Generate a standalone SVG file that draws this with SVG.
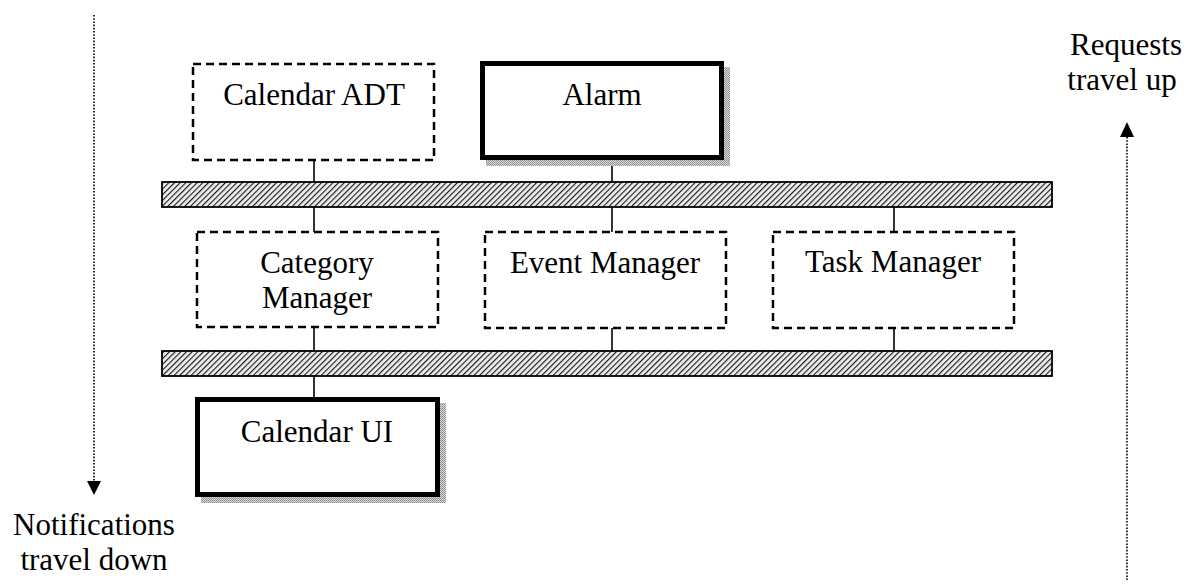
<svg xmlns="http://www.w3.org/2000/svg" width="1187" height="588" viewBox="0 0 1187 588">
  <defs>
    <!-- diagonal hatching for the two bus bars -->
    <pattern id="hatch" patternUnits="userSpaceOnUse" width="4" height="4" patternTransform="rotate(45)">
      <rect width="4" height="4" fill="#eeeeee"/>
      <line x1="0" y1="0" x2="0" y2="4" stroke="#1a1a1a" stroke-width="2.3"/>
    </pattern>
    <!-- stippled grey drop shadow of the solid components -->
    <pattern id="stipple" patternUnits="userSpaceOnUse" width="2" height="2">
      <rect width="2" height="2" fill="#d8d8d8"/>
      <rect width="1" height="1" fill="#8a8a8a"/>
      <rect x="1" y="1" width="1" height="1" fill="#a0a0a0"/>
    </pattern>
    <style>
      .lbl { font-family: "Liberation Serif", "Times New Roman", serif; font-size: 31px; fill: #000; text-anchor: middle; }
      .dash { fill: #fff; stroke: #000; stroke-width: 2.5; stroke-dasharray: 8 5; }
      .solid { fill: #fff; stroke: #000; stroke-width: 5; }
      .shadow { fill: url(#stipple); }
      .bus { fill: url(#hatch); stroke: #000; stroke-width: 1.8; }
      .wire { stroke: #000; stroke-width: 1.6; fill: none; }
      .dots { stroke: #000; stroke-width: 1.6; stroke-dasharray: 1.6 1.6; fill: none; }
    </style>
  </defs>

  <rect width="1187" height="588" fill="#fff"/>

  <!-- connectors between components and buses -->
  <g id="connectors">
    <line class="wire" x1="314" y1="160" x2="314" y2="182"/>
    <line class="wire" x1="612" y1="160" x2="612" y2="182"/>
    <line class="wire" x1="314" y1="207" x2="314" y2="232"/>
    <line class="wire" x1="612" y1="207" x2="612" y2="232"/>
    <line class="wire" x1="894" y1="207" x2="894" y2="232"/>
    <line class="wire" x1="314" y1="327" x2="314" y2="351"/>
    <line class="wire" x1="612" y1="328" x2="612" y2="351"/>
    <line class="wire" x1="894" y1="328" x2="894" y2="351"/>
    <line class="wire" x1="314" y1="376" x2="314" y2="397"/>
  </g>

  <!-- buses -->
  <g id="bus-upper">
    <rect class="bus" x="162" y="182" width="890" height="25"/>
  </g>
  <g id="bus-lower">
    <rect class="bus" x="162" y="351" width="890" height="25"/>
  </g>

  <!-- top layer -->
  <g id="calendar-adt">
    <rect class="dash" x="193" y="64" width="241" height="96"/>
    <text class="lbl" x="314" y="105">Calendar ADT</text>
  </g>
  <g id="alarm">
    <rect class="shadow" x="486" y="67" width="244" height="99"/>
    <rect class="solid" x="482.5" y="63.5" width="239" height="94"/>
    <text class="lbl" x="602" y="105">Alarm</text>
  </g>

  <!-- middle layer -->
  <g id="category-manager">
    <rect class="dash" x="197" y="232" width="241" height="95"/>
    <text class="lbl" x="317" y="273">Category</text>
    <text class="lbl" x="317" y="308">Manager</text>
  </g>
  <g id="event-manager">
    <rect class="dash" x="485" y="232" width="241" height="96"/>
    <text class="lbl" x="605" y="273">Event Manager</text>
  </g>
  <g id="task-manager">
    <rect class="dash" x="773" y="232" width="241" height="96"/>
    <text class="lbl" x="893" y="272">Task Manager</text>
  </g>

  <!-- bottom layer -->
  <g id="calendar-ui">
    <rect class="shadow" x="201" y="403" width="245" height="100"/>
    <rect class="solid" x="197.5" y="399.5" width="240" height="95"/>
    <text class="lbl" x="317" y="442">Calendar UI</text>
  </g>

  <!-- flow direction hints -->
  <g id="notifications">
    <line class="dots" x1="94" y1="15" x2="94" y2="481"/>
    <polygon points="87,481 101,481 94,495" fill="#000"/>
    <text class="lbl" x="94" y="535">Notifications</text>
    <text class="lbl" x="94" y="570">travel down</text>
  </g>
  <g id="requests">
    <line class="dots" x1="1127" y1="137" x2="1127" y2="580"/>
    <polygon points="1120,137 1134,137 1127,122" fill="#000"/>
    <text class="lbl" x="1126" y="55">Requests</text>
    <text class="lbl" x="1122" y="90">travel up</text>
  </g>
</svg>
